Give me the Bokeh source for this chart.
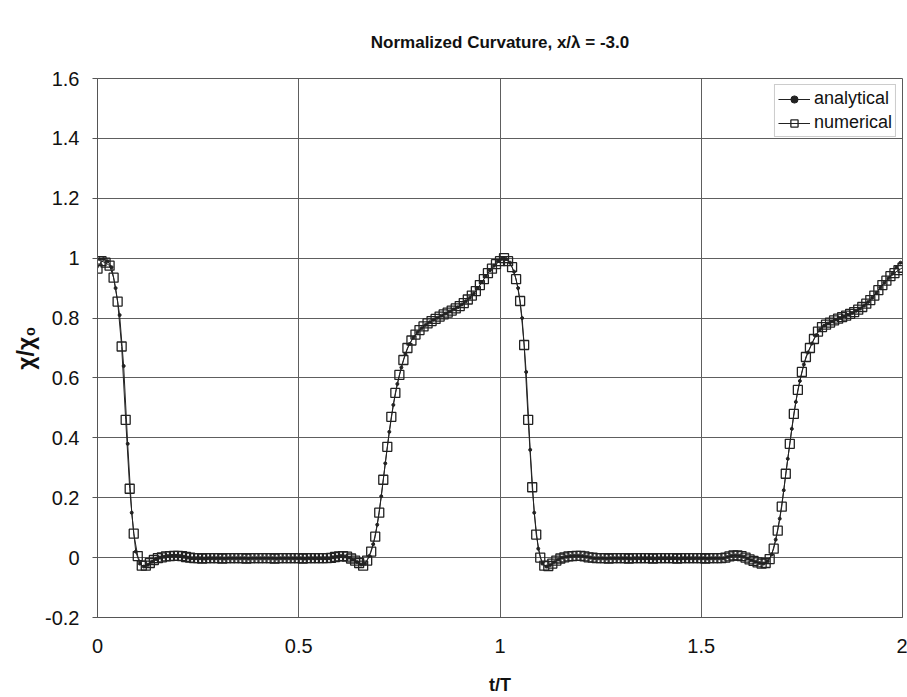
import numpy as np
from bokeh.plotting import figure
from bokeh.models import FixedTicker, Legend, LegendItem
from bokeh.embed import file_html
from bokeh.resources import INLINE

title_text = "Normalized Curvature, x/\u03bb = -3.0"
x_label = "t/T"
y_label = "\u03c7/\u03c7\u2080"
x_ticks = [0, 0.5, 1, 1.5, 2]
x_tick_labels = ["0", "0.5", "1", "1.5", "2"]
y_ticks = [-0.2, 0, 0.2, 0.4, 0.6, 0.8, 1, 1.2, 1.4, 1.6]
y_tick_labels = ["-0.2", "0", "0.2", "0.4", "0.6", "0.8", "1", "1.2", "1.4", "1.6"]

# sampling instants (t/T), step 0.01; analytical samples sit half a step later
t_numerical = np.round(np.arange(201) * 0.01, 3)
t_analytical = np.round(np.arange(200) * 0.01 + 0.005, 3)

numerical = [
    0.965, 0.99, 0.985, 0.975, 0.935, 0.855, 0.705, 0.46, 0.23, 0.08,
    0.005, -0.027, -0.027, -0.018, -0.008, -0.002, 0.001, 0.004, 0.005, 0.006,
    0.006, 0.005, 0.002, 0.0, -0.002, -0.002, -0.003, -0.002, -0.002, -0.002,
    -0.002, -0.003, -0.002, -0.002, -0.002, -0.002, -0.002, -0.003, -0.002, -0.002,
    -0.002, -0.002, -0.002, -0.002, -0.003, -0.002, -0.002, -0.002, -0.002, -0.002,
    -0.002, -0.003, -0.002, -0.002, -0.002, -0.002, -0.002, -0.002, -0.001, 0.002,
    0.004, 0.005, 0.003, -0.003, -0.01, -0.018, -0.027, -0.01, 0.02, 0.07,
    0.15, 0.26, 0.37, 0.47, 0.55, 0.61, 0.66, 0.70, 0.725, 0.745,
    0.76, 0.772, 0.782, 0.79, 0.797, 0.805, 0.812, 0.818, 0.825, 0.832,
    0.84, 0.85, 0.862, 0.875, 0.89, 0.91, 0.93, 0.95, 0.965, 0.98,
    0.99, 1.0, 0.99, 0.97, 0.93, 0.857, 0.71, 0.46, 0.235, 0.077,
    0.0, -0.027, -0.028, -0.02, -0.01, -0.003, 0.001, 0.004, 0.005, 0.006,
    0.006, 0.004, 0.001, 0.0, -0.002, -0.002, -0.002, -0.003, -0.002, -0.002,
    -0.002, -0.002, -0.003, -0.002, -0.002, -0.002, -0.002, -0.002, -0.003, -0.002,
    -0.002, -0.002, -0.002, -0.002, -0.003, -0.002, -0.002, -0.002, -0.002, -0.002,
    -0.002, -0.003, -0.002, -0.002, -0.002, -0.002, 0.0, 0.004, 0.007, 0.007,
    0.005, 0.0, -0.006, -0.011, -0.016, -0.02, -0.018, -0.005, 0.03, 0.09,
    0.17, 0.28, 0.38, 0.48, 0.56, 0.62, 0.67, 0.70, 0.73, 0.755,
    0.77, 0.778, 0.785, 0.792, 0.798, 0.803, 0.808, 0.814, 0.82, 0.828,
    0.837, 0.848, 0.86, 0.875, 0.893, 0.91, 0.925, 0.94, 0.95, 0.96,
    0.968,
]

analytical = [
    0.997, 0.997, 0.99, 0.97, 0.90, 0.81, 0.64, 0.38, 0.15, 0.02,
    -0.02, -0.03, -0.024, -0.014, -0.005, 0.0, 0.003, 0.005, 0.006, 0.006,
    0.005, 0.003, 0.0, -0.002, -0.002, -0.002, -0.003, -0.002, -0.002, -0.002,
    -0.002, -0.003, -0.002, -0.002, -0.002, -0.002, -0.002, -0.003, -0.002, -0.002,
    -0.002, -0.002, -0.002, -0.002, -0.003, -0.002, -0.002, -0.002, -0.002, -0.002,
    -0.002, -0.003, -0.002, -0.002, -0.002, -0.002, -0.002, -0.002, 0.001, 0.003,
    0.005, 0.004, 0.0, -0.007, -0.015, -0.023, -0.02, 0.005, 0.045, 0.11,
    0.205, 0.315, 0.42, 0.51, 0.58, 0.635, 0.68, 0.713, 0.735, 0.753,
    0.766, 0.777, 0.786, 0.794, 0.801, 0.808, 0.815, 0.822, 0.829, 0.836,
    0.845, 0.856, 0.868, 0.882, 0.90, 0.92, 0.94, 0.96, 0.975, 0.99,
    0.998, 0.997, 0.985, 0.955, 0.90, 0.80, 0.62, 0.36, 0.15, 0.03,
    -0.02, -0.03, -0.025, -0.015, -0.006, 0.0, 0.003, 0.005, 0.006, 0.006,
    0.005, 0.003, 0.0, -0.002, -0.002, -0.002, -0.003, -0.002, -0.002, -0.002,
    -0.002, -0.002, -0.003, -0.002, -0.002, -0.002, -0.002, -0.002, -0.003, -0.002,
    -0.002, -0.002, -0.002, -0.002, -0.003, -0.002, -0.002, -0.002, -0.002, -0.002,
    -0.002, -0.003, -0.002, -0.002, -0.002, -0.002, 0.002, 0.006, 0.007, 0.006,
    0.003, -0.003, -0.009, -0.014, -0.018, -0.02, -0.012, 0.01, 0.06, 0.13,
    0.225, 0.33, 0.43, 0.52, 0.59, 0.645, 0.685, 0.715, 0.742, 0.762,
    0.774, 0.782, 0.789, 0.795, 0.80, 0.806, 0.811, 0.817, 0.824, 0.832,
    0.842, 0.854, 0.868, 0.884, 0.902, 0.918, 0.933, 0.948, 0.97, 0.985,
]

FONT = "Liberation Sans"

p = figure(
    width=907, height=697,
    x_range=(0, 2), y_range=(-0.2, 1.6),
    output_backend="svg", toolbar_location=None,
    min_border_left=97, min_border_right=5,
    min_border_top=78, min_border_bottom=80,
)
p.background_fill_color = "white"
p.border_fill_color = "white"
p.outline_line_color = "#5a5a5a"
p.outline_line_width = 1

p.title.text = title_text
p.title.align = "center"
p.title.text_font = FONT
p.title.text_font_size = "17px"
p.title.text_font_style = "bold"
p.title.text_color = "#111111"
p.title.standoff = 54

p.xaxis.ticker = FixedTicker(ticks=x_ticks)
p.yaxis.ticker = FixedTicker(ticks=y_ticks)
p.xaxis.major_label_overrides = {k: v for k, v in zip(x_ticks, x_tick_labels)}
p.yaxis.major_label_overrides = {k: v for k, v in zip(y_ticks, y_tick_labels)}

for ax in (p.xaxis, p.yaxis):
    ax.axis_line_color = "#555555"
    ax.axis_line_width = 1
    ax.major_tick_line_color = "#555555"
    ax.minor_tick_line_color = None
    ax.major_label_text_font = FONT
    ax.major_label_text_font_size = "20px"
    ax.major_label_text_color = "#111111"
    ax.axis_label_text_font = FONT
    ax.axis_label_text_font_style = "bold"
    ax.axis_label_text_color = "#111111"

p.yaxis.major_tick_out = 5
p.yaxis.major_tick_in = 0
p.yaxis.major_label_standoff = 13
p.yaxis.axis_label = y_label
p.yaxis.axis_label_text_font_size = "23px"
p.yaxis.axis_label_standoff = 3

p.xaxis.major_tick_out = 0
p.xaxis.major_tick_in = 0
p.xaxis.major_label_standoff = 21
p.xaxis.axis_label = x_label
p.xaxis.axis_label_text_font_size = "18px"
p.xaxis.axis_label_standoff = 19

p.xgrid.grid_line_color = "#5e5e5e"
p.ygrid.grid_line_color = "#5e5e5e"
p.xgrid.grid_line_width = 1
p.ygrid.grid_line_width = 1

la = p.line(t_analytical, analytical, line_color="#222222", line_width=1)
sa = p.scatter(t_analytical, analytical, marker="circle", size=3,
               fill_color="#222222", line_color="#222222")
ln = p.line(t_numerical, numerical, line_color="#222222", line_width=1)
sn = p.scatter(t_numerical, numerical, marker="square", size=9,
               fill_alpha=0, line_color="#222222", line_width=1.3)

legend = Legend(
    items=[
        LegendItem(label="analytical", renderers=[la, sa]),
        LegendItem(label="numerical", renderers=[ln, sn]),
    ],
    location="top_right",
)
legend.label_text_font = FONT
legend.label_text_font_size = "18px"
legend.label_text_color = "#111111"
legend.glyph_width = 32
legend.glyph_height = 18
legend.spacing = 3
legend.padding = 3
legend.margin = 6
legend.label_standoff = 4
legend.label_height = 18
legend.border_line_color = "#999999"
legend.border_line_width = 1
legend.background_fill_color = "white"
legend.background_fill_alpha = 1.0
p.add_layout(legend)

open("out.html", "w").write(file_html(p, INLINE))
